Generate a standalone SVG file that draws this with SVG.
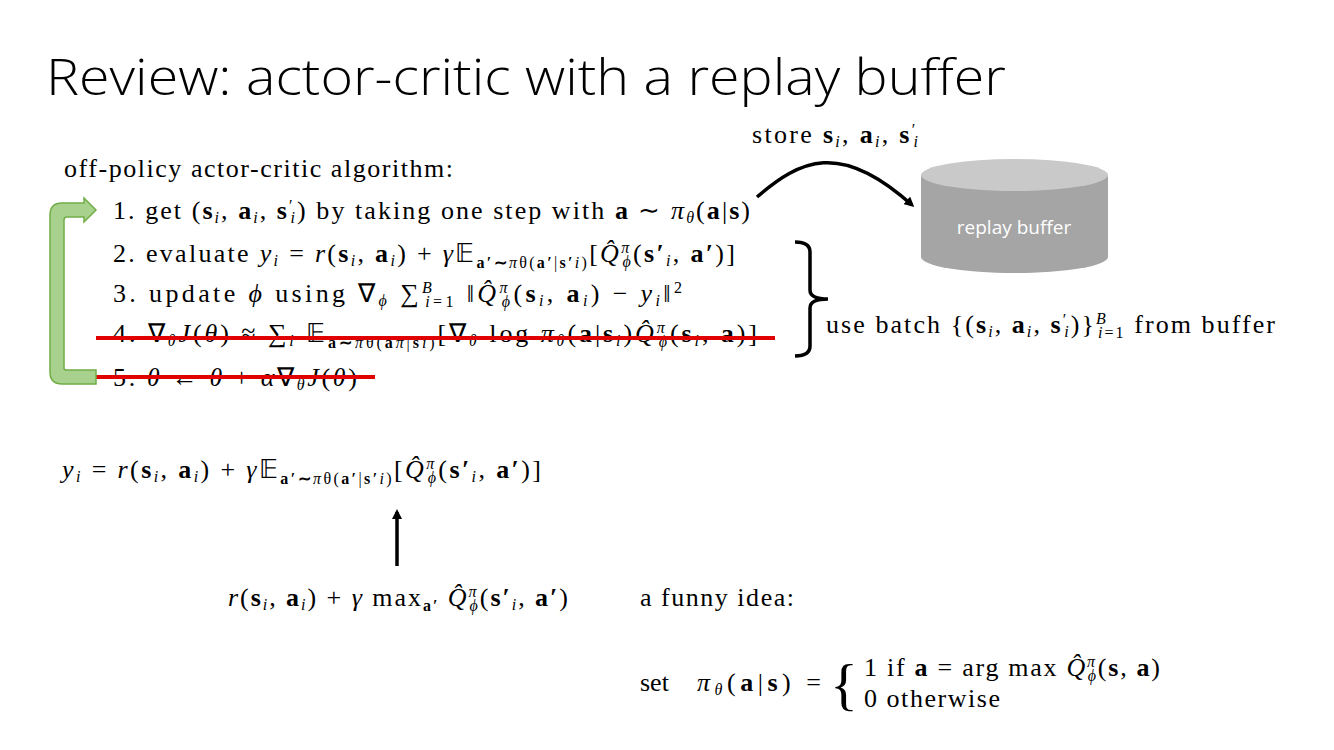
<svg xmlns="http://www.w3.org/2000/svg" width="1334" height="750" viewBox="0 0 1334 750">
<style>
.t{font-family:"Liberation Serif",serif;font-size:26px;fill:#000}
.i{font-style:italic}
.b{font-weight:bold}
.s{font-size:16px}
.title{font-family:"Open Sans","Liberation Sans",sans-serif;font-size:50px;font-weight:300;fill:#000}
.red{stroke:#e00000;stroke-width:4}
</style>
<defs>
<marker id="ah" markerWidth="10" markerHeight="10" refX="7" refY="5" orient="auto" markerUnits="userSpaceOnUse">
<path d="M0,0 L10,5 L0,10 z" fill="#000"/>
</marker>
</defs>
<rect width="1334" height="750" fill="#fff"/>
<text class="title" x="46" y="95" textLength="960" lengthAdjust="spacingAndGlyphs">Review: actor-critic with a replay buffer</text>

<g id="algorithm">
<text class="t" x="64" y="177" textLength="389">off-policy actor-critic algorithm:</text>
<text class="t" x="113" y="219" textLength="637">1. get (<tspan class="b">s</tspan><tspan class="i s" dy="4">i</tspan><tspan dy="-4">, </tspan><tspan class="b">a</tspan><tspan class="i s" dy="4">i</tspan><tspan dy="-4">, </tspan><tspan class="b">s</tspan><tspan class="s" dy="-8">′</tspan><tspan class="i s" dx="-4" dy="12">i</tspan><tspan dy="-4">) by taking one step with </tspan><tspan class="b">a</tspan> ∼ <tspan class="i">π</tspan><tspan class="i s" dy="4">θ</tspan><tspan dy="-4">(</tspan><tspan class="b">a</tspan>|<tspan class="b">s</tspan>)</text>
<text class="t" x="113" y="262" textLength="622">2. evaluate <tspan class="i">y</tspan><tspan class="i s" dy="4">i</tspan><tspan dy="-4"> = </tspan><tspan class="i">r</tspan>(<tspan class="b">s</tspan><tspan class="i s" dy="4">i</tspan><tspan dy="-4">, </tspan><tspan class="b">a</tspan><tspan class="i s" dy="4">i</tspan><tspan dy="-4">) + </tspan><tspan class="i">γ</tspan>𝔼<tspan class="s b" dy="6">a′∼</tspan><tspan class="s i">π</tspan><tspan class="s">θ(</tspan><tspan class="s b">a′</tspan><tspan class="s">|</tspan><tspan class="s b">s′</tspan><tspan class="s i">i</tspan><tspan class="s">)</tspan><tspan dy="-6">[</tspan><tspan class="i">Q̂</tspan><tspan class="i s" dy="-9">π</tspan><tspan class="i s" dx="-9" dy="14">ϕ</tspan><tspan dy="-5">(</tspan><tspan class="b">s′</tspan><tspan class="i s" dy="4">i</tspan><tspan dy="-4">, </tspan><tspan class="b">a′</tspan>)]</text>
<text class="t" x="113" y="302" textLength="569">3. update <tspan class="i">ϕ</tspan> using ∇<tspan class="i s" dy="4">ϕ</tspan><tspan dy="-4"> ∑</tspan><tspan class="s" dy="-9"><tspan class="i">B</tspan></tspan><tspan class="s" dx="-10" dy="14"><tspan class="i">i</tspan>=1</tspan><tspan dy="-5"> ‖</tspan><tspan class="i">Q̂</tspan><tspan class="i s" dy="-9">π</tspan><tspan class="i s" dx="-9" dy="14">ϕ</tspan><tspan dy="-5">(</tspan><tspan class="b">s</tspan><tspan class="i s" dy="4">i</tspan><tspan dy="-4">, </tspan><tspan class="b">a</tspan><tspan class="i s" dy="4">i</tspan><tspan dy="-4">) − </tspan><tspan class="i">y</tspan><tspan class="i s" dy="4">i</tspan><tspan dy="-4">‖</tspan><tspan class="s" dy="-9">2</tspan></text>
<text class="t" x="113" y="342" textLength="644">4. ∇<tspan class="i s" dy="4">θ</tspan><tspan class="i" dy="-4">J</tspan>(<tspan class="i">θ</tspan>) ≈ ∑<tspan class="i s" dy="4">i</tspan><tspan dy="-4"> 𝔼</tspan><tspan class="s b" dy="6">a∼</tspan><tspan class="s i">π</tspan><tspan class="s">θ(</tspan><tspan class="s b">a</tspan><tspan class="s i">π</tspan><tspan class="s">|</tspan><tspan class="s b">s</tspan><tspan class="s i">i</tspan><tspan class="s">)</tspan><tspan dy="-6">[∇</tspan><tspan class="i s" dy="4">θ</tspan><tspan dy="-4"> log </tspan><tspan class="i">π</tspan><tspan class="i s" dy="4">θ</tspan><tspan dy="-4">(</tspan><tspan class="b">a</tspan>|<tspan class="b">s</tspan><tspan class="i s" dy="4">i</tspan><tspan dy="-4">)</tspan><tspan class="i">Q̂</tspan><tspan class="i s" dy="-9">π</tspan><tspan class="i s" dx="-9" dy="14">ϕ</tspan><tspan dy="-5">(</tspan><tspan class="b">s</tspan><tspan class="i s" dy="4">i</tspan><tspan dy="-4">, </tspan><tspan class="b">a</tspan>)]</text>
<text class="t" x="113" y="386" textLength="244">5. <tspan class="i">θ</tspan> ← <tspan class="i">θ</tspan> + <tspan class="i">α</tspan>∇<tspan class="i s" dy="4">θ</tspan><tspan class="i" dy="-4">J</tspan>(<tspan class="i">θ</tspan>)</text>
<line class="red" x1="96" y1="338" x2="775" y2="338"/>
<line class="red" x1="96" y1="377" x2="375" y2="377"/>
</g>

<g id="loop-arrow">
<path d="M96,210 L84,198 L84,203 L62,203 Q50,203 50,215 L50,372 Q50,384 62,384 L96,384 L96,370 L66,370 Q64,370 64,368 L64,220 Q64,217 67,217 L84,217 L84,222 Z" fill="#a9d18e" stroke="#70ad47" stroke-width="1.5"/>
</g>

<g id="brace">
<path d="M795,242 Q810,242 810,252 L810,290 Q810,299 828,299 Q810,299 810,308 L810,346 Q810,356 795,356" fill="none" stroke="#000" stroke-width="3.5"/>
<text class="t" x="826" y="333" textLength="449">use batch {(<tspan class="b">s</tspan><tspan class="i s" dy="4">i</tspan><tspan dy="-4">, </tspan><tspan class="b">a</tspan><tspan class="i s" dy="4">i</tspan><tspan dy="-4">, </tspan><tspan class="b">s</tspan><tspan class="s" dy="-8">′</tspan><tspan class="i s" dx="-4" dy="12">i</tspan><tspan dy="-4">)}</tspan><tspan class="s i" dy="-9">B</tspan><tspan class="s" dx="-10" dy="14"><tspan class="i">i</tspan>=1</tspan><tspan dy="-5"> from buffer</tspan></text>
</g>

<g id="replay-buffer">
<path d="M921,175 L921,257 A93.5,16 0 0 0 1108,257 L1108,175 Z" fill="#a5a5a5"/>
<ellipse cx="1014.5" cy="175" rx="93.5" ry="16" fill="#c9c9c9"/>
<text x="1014" y="234" text-anchor="middle" font-family="Open Sans,Liberation Sans,sans-serif" font-size="19" fill="#fff">replay buffer</text>
</g>

<g id="store-label">
<text class="t" x="752" y="143" textLength="166">store <tspan class="b">s</tspan><tspan class="i s" dy="4">i</tspan><tspan dy="-4">, </tspan><tspan class="b">a</tspan><tspan class="i s" dy="4">i</tspan><tspan dy="-4">, </tspan><tspan class="b">s</tspan><tspan class="s" dy="-8">′</tspan><tspan class="i s" dx="-4" dy="12">i</tspan></text>
</g>

<g id="connectors">
<path d="M757,197 C800,160 840,140 912,205" fill="none" stroke="#000" stroke-width="3.5" marker-end="url(#ah)"/>
<line x1="397" y1="566" x2="397" y2="512" stroke="#000" stroke-width="3.5" marker-end="url(#ah)"/>
</g>

<g id="target-eq">
<text class="t" x="62" y="478" textLength="479"><tspan class="i">y</tspan><tspan class="i s" dy="4">i</tspan><tspan dy="-4"> = </tspan><tspan class="i">r</tspan>(<tspan class="b">s</tspan><tspan class="i s" dy="4">i</tspan><tspan dy="-4">, </tspan><tspan class="b">a</tspan><tspan class="i s" dy="4">i</tspan><tspan dy="-4">) + </tspan><tspan class="i">γ</tspan>𝔼<tspan class="s b" dy="6">a′∼</tspan><tspan class="s i">π</tspan><tspan class="s">θ(</tspan><tspan class="s b">a′</tspan><tspan class="s">|</tspan><tspan class="s b">s′</tspan><tspan class="s i">i</tspan><tspan class="s">)</tspan><tspan dy="-6">[</tspan><tspan class="i">Q̂</tspan><tspan class="i s" dy="-9">π</tspan><tspan class="i s" dx="-9" dy="14">ϕ</tspan><tspan dy="-5">(</tspan><tspan class="b">s′</tspan><tspan class="i s" dy="4">i</tspan><tspan dy="-4">, </tspan><tspan class="b">a′</tspan>)]</text>
</g>

<g id="max-eq">
<text class="t" x="228" y="606" textLength="340"><tspan class="i">r</tspan>(<tspan class="b">s</tspan><tspan class="i s" dy="4">i</tspan><tspan dy="-4">, </tspan><tspan class="b">a</tspan><tspan class="i s" dy="4">i</tspan><tspan dy="-4">) + </tspan><tspan class="i">γ</tspan> max<tspan class="s b" dy="5">a′</tspan><tspan dy="-5"> </tspan><tspan class="i">Q̂</tspan><tspan class="i s" dy="-9">π</tspan><tspan class="i s" dx="-9" dy="14">ϕ</tspan><tspan dy="-5">(</tspan><tspan class="b">s′</tspan><tspan class="i s" dy="4">i</tspan><tspan dy="-4">, </tspan><tspan class="b">a′</tspan>)</text>
</g>

<g id="funny-idea">
<text class="t" x="640" y="606" textLength="154">a funny idea:</text>
<text class="t" x="640" y="691">set</text>
<text class="t" x="697" y="691" textLength="124"><tspan class="i">π</tspan><tspan class="i s" dy="4">θ</tspan><tspan dy="-4">(</tspan><tspan class="b">a</tspan>|<tspan class="b">s</tspan>) =</text>
<text x="830" y="704" font-family="Liberation Serif,serif" font-size="58">{</text>
<text class="t" x="864" y="676" textLength="296">1 if <tspan class="b">a</tspan> = arg max <tspan class="i">Q̂</tspan><tspan class="i s" dy="-9">π</tspan><tspan class="i s" dx="-9" dy="14">ϕ</tspan><tspan dy="-5">(</tspan><tspan class="b">s</tspan>, <tspan class="b">a</tspan>)</text>
<text class="t" x="864" y="707" textLength="136">0 otherwise</text>
</g>
</svg>
